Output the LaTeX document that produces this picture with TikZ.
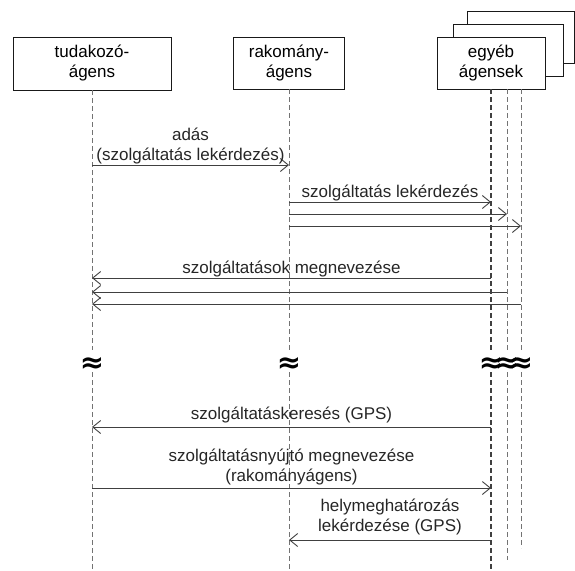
\documentclass[tikz,border=0pt]{standalone}
\usepackage{fontspec}
\setmainfont{Liberation Sans}
\newfontfamily\symfont{DejaVu Sans}
\usetikzlibrary{arrows.meta}
\begin{document}
\begin{tikzpicture}[x=1pt,y=-1pt,
  every node/.style={font=\fontsize{17}{20}\selectfont},
  agent/.style={draw=black!90, line width=0.9pt, fill=white, align=center, inner sep=0pt},
  life/.style={draw=black!55, line width=0.8pt, dash pattern=on 5pt off 3pt},
  mainlife/.style={draw=black!75, line width=1.1pt, dash pattern=on 5pt off 3pt},
  msg/.style={draw=black!75, line width=0.9pt, -{Straight Barb[length=8pt,width=13pt]}},
  lbl/.style={anchor=south, inner sep=0pt, align=center, text=black!85},
  brk/.style={font=\symfont\bfseries\fontsize{29}{29}\selectfont, inner sep=0pt, yshift=-3pt}
]
\useasboundingbox (0,0) rectangle (575,570);

% agents
\node[agent, minimum width=158pt, minimum height=53pt] (tud) at (92,63.5) {tudakozó-\\ágens};
\node[agent, minimum width=111pt, minimum height=52pt] (rak) at (289,63) {rakomány-\\ágens};
\node[agent, minimum width=107pt, minimum height=52pt] (eg3) at (520.5,37) {};
\node[agent, minimum width=110pt, minimum height=52pt] (eg2) at (508,50) {};
\node[agent, minimum width=108pt, minimum height=52pt] (eg) at (491,63) {egyéb\\ágensek};

% helper coordinates
\coordinate (L4) at (507,89);
\coordinate (L5) at (521,89);
\coordinate (b1) at (0,350);
\coordinate (b2) at (0,372);
\coordinate (e1) at (0,570);
\coordinate (e4) at (0,560);
\coordinate (e5) at (0,548);
\coordinate (br) at (0,362);

% lifelines
\draw[life] (tud.south) -- (tud |- b1);
\draw[life] (tud |- b2) -- (tud |- e1);
\draw[life] (rak.south) -- (rak |- b1);
\draw[life] (rak |- b2) -- (rak |- e1);
\draw[mainlife] (eg.south) -- (eg |- b1);
\draw[mainlife] (eg |- b2) -- (eg |- e1);
\draw[life] (L4) -- (L4 |- b1);
\draw[life] (L4 |- b2) -- (L4 |- e4);
\draw[life] (L5) -- (L5 |- b1);
\draw[life] (L5 |- b2) -- (L5 |- e5);

% breaks
\node[brk] (z1) at (tud |- br) {≈};
\node[brk] (z2) at (rak |- br) {≈};
\node[brk] (z3) at (eg |- br) {≈};
\node[brk] (z4) at (L4 |- br) {≈};
\node[brk] (z5) at (L5 |- br) {≈};

% messages
\coordinate (m1) at (0,165);
\coordinate (m2) at (0,202);
\coordinate (m3) at (0,214);
\coordinate (m4) at (0,226);
\coordinate (m5) at (0,278);
\coordinate (m6) at (0,292);
\coordinate (m7) at (0,304);
\coordinate (m8) at (0,427);
\coordinate (m9) at (0,488);
\coordinate (m10) at (0,540);

\draw[msg] (tud |- m1) -- (rak |- m1) node[lbl, midway, yshift=0.9pt] {adás\\(szolgáltatás lekérdezés)};
\draw[msg] (rak |- m2) -- (eg |- m2) node[lbl, midway, yshift=0.9pt] {szolgáltatás lekérdezés};
\draw[msg] (rak |- m3) -- (L4 |- m3);
\draw[msg] (rak |- m4) -- (L5 |- m4);
\draw[msg] (eg |- m5) -- (tud |- m5) node[lbl, midway, yshift=0.5pt] {szolgáltatások megnevezése};
\draw[msg] (L4 |- m6) -- (tud |- m6);
\draw[msg] (L5 |- m7) -- (tud |- m7);
\draw[msg] (eg |- m8) -- (tud |- m8) node[lbl, midway, yshift=3.4pt] {szolgáltatáskeresés (GPS)};
\draw[msg] (tud |- m9) -- (eg |- m9) node[lbl, midway, yshift=2.9pt] {szolgáltatásnyújtó megnevezése\\(rakományágens)};
\draw[msg] (eg |- m10) -- (rak |- m10) node[lbl, midway, yshift=4.4pt] {helymeghatározás\\lekérdezése (GPS)};
\end{tikzpicture}
\end{document}
